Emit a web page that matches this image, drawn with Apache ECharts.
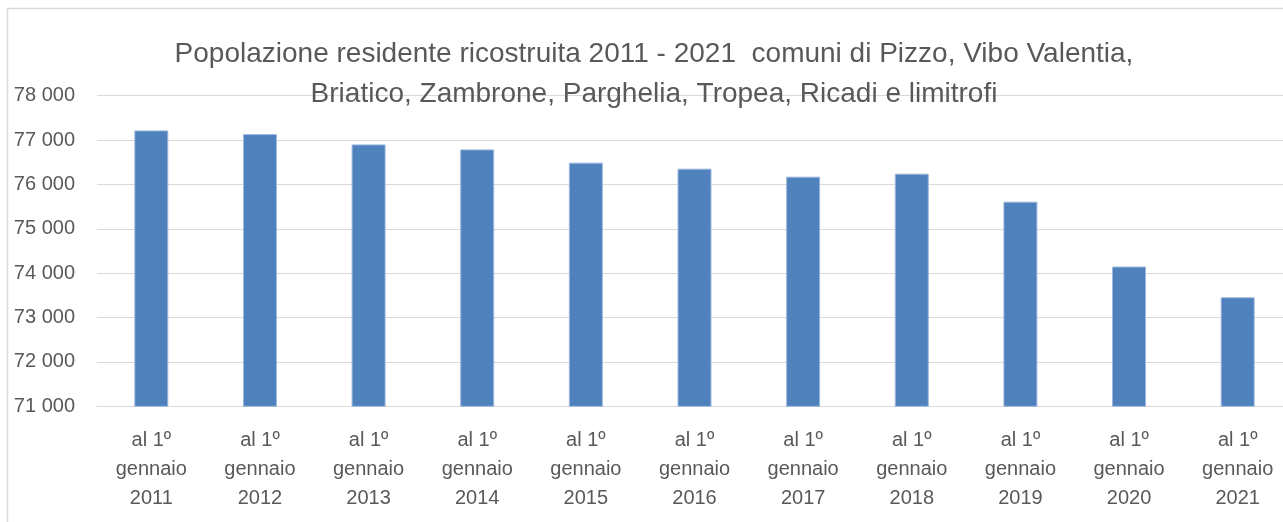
<!DOCTYPE html>
<html>
<head>
<meta charset="utf-8">
<style>
html,body{margin:0;padding:0;background:#fff;}
#chart{width:1283px;height:522px;}
</style>
<script src="https://cdn.jsdelivr.net/npm/echarts@6/dist/echarts.min.js"></script>
</head>
<body>
<div id="chart"></div>
<script>
var categories = ["al 1º\ngennaio\n2011","al 1º\ngennaio\n2012","al 1º\ngennaio\n2013","al 1º\ngennaio\n2014","al 1º\ngennaio\n2015","al 1º\ngennaio\n2016","al 1º\ngennaio\n2017","al 1º\ngennaio\n2018","al 1º\ngennaio\n2019","al 1º\ngennaio\n2020","al 1º\ngennaio\n2021"];
var population = [77218, 77135, 76903, 76790, 76491, 76356, 76176, 76243, 75612, 74150, 73457];
var yMin = 71000, yMax = 78000, yStep = 1000;
var titleText = "Popolazione residente ricostruita 2011 - 2021  comuni di Pizzo, Vibo Valentia,\nBriatico, Zambrone, Parghelia, Tropea, Ricadi e limitrofi";

var chart = echarts.init(document.getElementById('chart'), null, {renderer:'canvas'});
var font = "'Liberation Sans', Arial, sans-serif";
chart.setOption({
  animation:false,
  backgroundColor:'#ffffff',
  textStyle:{fontFamily:font},
  graphic:[{type:'rect', shape:{x:7.5,y:8.5,width:1400,height:700}, style:{fill:null, stroke:'#d9d9d9', lineWidth:1.5}, silent:true, z:-1}],
  title:{
    text:titleText,
    left:649, top:29, textAlign:'center',
    textStyle:{fontFamily:font, fontSize:28, fontWeight:'normal', color:'#595959', lineHeight:40}
  },
  grid:{left:97, top:95.7, right:-9, height:310.6, outerBoundsMode:'none', containLabel:false},
  xAxis:{
    type:'category', data:categories,
    axisLine:{show:true, lineStyle:{color:'#d9d9d9', width:1}},
    axisTick:{show:false},
    axisLabel:{interval:0, fontFamily:font, fontSize:20, color:'#595959', lineHeight:29, margin:20}
  },
  yAxis:{
    type:'value', min:yMin, max:yMax, interval:yStep,
    axisLine:{show:false}, axisTick:{show:false},
    splitLine:{lineStyle:{color:'#d9d9d9', width:1}},
    axisLabel:{fontFamily:font, fontSize:20, color:'#595959', margin:22,
      formatter:function(v){return String(v).replace(/\B(?=(\d{3})+(?!\d))/g,' ');}}
  },
  series:[{
    type:'bar', data:population, barWidth:34,
    itemStyle:{color:'#4f81bd', borderColor:'#9cb8dc', borderWidth:1}
  }]
});
</script>
</body>
</html>
